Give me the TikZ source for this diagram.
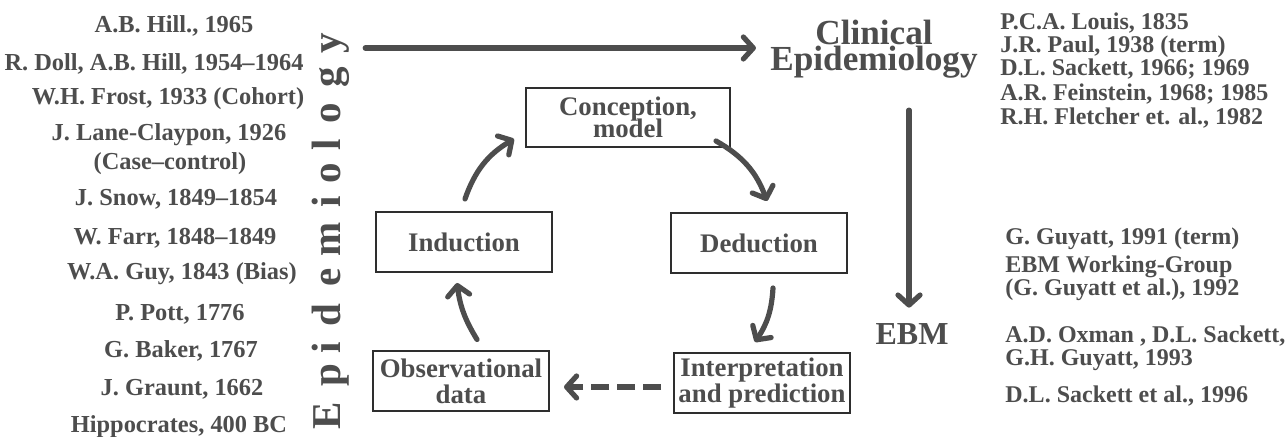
\documentclass[tikz,border=0pt]{standalone}
\usepackage{fontspec}
\setmainfont{Liberation Serif}
\usetikzlibrary{arrows.meta,positioning,calc}
\definecolor{inkgray}{HTML}{4D4D4D}
\definecolor{framegray}{HTML}{2E2E2E}
\newcommand{\tightlead}{\lineskiplimit=-20pt\relax}

\begin{document}
\begin{tikzpicture}[x=0.5pt,y=0.5pt,
    every node/.style={text=inkgray},
    pioneer/.style={font=\bfseries\fontsize{12.2}{14.5}\selectfont,anchor=base,inner sep=0pt},
    source/.style={font=\bfseries\fontsize{12}{14}\selectfont,anchor=base west,inner sep=0pt},
    letter/.style={font=\bfseries\fontsize{20.5}{20.5}\selectfont,rotate=90,anchor=base,inner sep=0pt},
    head/.style={font=\bfseries\fontsize{17.6}{13.2}\selectfont\tightlead,anchor=base,inner sep=0pt},
    stage/.style={draw=framegray,line width=1pt,minimum width=88pt,minimum height=30pt,
      inner sep=0pt,align=center,font=\bfseries\fontsize{13.4}{13}\selectfont\tightlead},
    flow/.style={draw=inkgray,line width=2.6pt,line cap=round,
      -{Straight Barb[round,length=5pt,width=11pt]}},
  ]
        \path[use as bounding box,fill=white] (0,0) rectangle (1288,437);
        % pioneers of epidemiology
        \foreach \txt/\xx/\yy [count=\i] in {{A.B. Hill., 1965}/174/404,
            {R. Doll, A.B. Hill, 1954–1964}/154/366, {W.H. Frost, 1933 (Cohort)}/168/332,
            {J. Lane-Claypon, 1926}/169/296, {(Case–control)}/170/267,
            {J. Snow, 1849–1854}/176/231, {W. Farr, 1848–1849}/175/192,
            {W.A. Guy, 1843 (Bias)}/182/157, {P. Pott, 1776}/180/116,
            {G. Baker, 1767}/181/79, {J. Graunt, 1662}/182/41,
            {Hippocrates, 400 BC}/179/4}
          \node[pioneer] (lit\i) at (\xx,\yy) {\txt};
        % vertical title
        \foreach \ch/\yy [count=\i] in {E/21,p/62,i/89,d/122,e/160,m/198,i/235,o/264,l/292,o/324,g/360,y/394}
          \node[letter] (ep\i) at (340,\yy) {\ch};
        % cycle
        \node[stage,minimum width=102pt,minimum height=29.5pt,
          font=\bfseries\fontsize{13.4}{11.2}\selectfont\tightlead] (con) at (628,319.5) {Conception,\\model};
        \node[stage] (ind) at (464,195) {Induction};
        \node[stage] (ded) at (759,194) {Deduction};
        \node[stage] (obs) at (461,55.5) {Observational\\data};
        \node[stage] (int) at (762,54) {Interpretation\\and prediction};
        \draw[flow] ($(ind.north)+(1,12)$) to[bend left=20] ($(con.south west)+(-11,9)$);
        \draw[flow] ($(con.south east)+(-15,7)$) to[bend left=20] ($(ded.north)+(8,11)$);
        \draw[flow] ($(ded.south)+(14,-14)$) to[bend left=15] ($(int.north)+(-7,10)$);
        \draw[flow] ($(obs.north)+(16,11)$) to[bend left=12] ($(ind.south)+(-7,-10)$);
        \draw[flow,line cap=butt,dash pattern=on 9pt off 4pt] ($(int.west)+(-12,-4)$) -- ($(obs.east)+(14,-5.5)$);
        % clinical epidemiology and EBM
        \node[head,align=center] (clin) at (874,366) {Clinical\\Epidemiology};
        \node[font=\bfseries\fontsize{16}{16}\selectfont,anchor=base,inner sep=0pt] (ebm) at (912,92) {EBM};
        \draw[flow] ($(ep12.south)+(16,-5)$) coordinate (ctail) -- ($(ctail -| clin.west)+(-14,0)$);
        \draw[flow] ($(clin.south -| ebm.north)+(-3,-31)$) -- ($(ebm.north)+(-3,16)$);
        \foreach \txt/\yy [count=\i] in {{P.C.A. Louis, 1835}/407, {J.R. Paul, 1938 (term)}/384,
            {D.L. Sackett, 1966; 1969}/361, {A.R. Feinstein, 1968; 1985}/336,
            {R.H. Fletcher et. al., 1982}/312}
          \node[source] (ce\i) at (1000,\yy) {\txt};
        \foreach \txt/\yy [count=\i] in {{G. Guyatt, 1991 (term)}/192, {EBM Working-Group}/164,
            {(G. Guyatt et al.), 1992}/141, {A.D. Oxman , D.L. Sackett,}/94,
            {G.H. Guyatt, 1993}/71, {D.L. Sackett et al., 1996}/34}
          \node[source] (eb\i) at (1005,\yy) {\txt};
      \end{tikzpicture}
\end{document}
